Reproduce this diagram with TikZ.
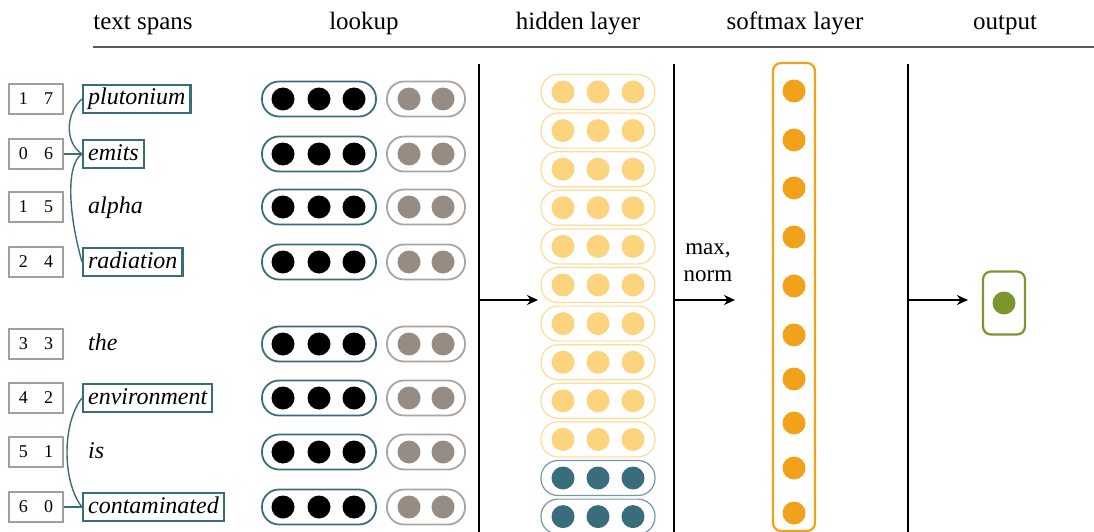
\documentclass[tikz,border=0pt]{standalone}
\usepackage{fontspec}
\setmainfont{Liberation Serif}
\usetikzlibrary{positioning, arrows.meta}
\definecolor{spanteal}{HTML}{3A6D7B}
\definecolor{lookgray}{HTML}{968C84}
\definecolor{hidorange}{HTML}{FCD47E}
\definecolor{hidedge}{HTML}{FDDB98}
\definecolor{softorange}{HTML}{F2A11B}
\definecolor{outgreen}{HTML}{7B962C}
\newcommand{\DOTR}{11.5}
\newcommand{\PILLH}{35}

\tikzset{
    numbox/.style={draw=lookgray!85, line width=1.2pt, minimum width=54, minimum height=30, inner sep=0pt, font=\fontsize{18}{21}\selectfont},
    wordbox/.style={draw=spanteal, line width=2.2pt, inner xsep=5pt, inner ysep=3pt, text height=17pt, text depth=5pt, font=\fontsize{24}{28}\selectfont\itshape, anchor=west},
    plainword/.style={wordbox, draw=none},
    coltitle/.style={anchor=base, font=\fontsize{25}{30}\selectfont},
    pill/.style={rectangle, rounded corners=17pt, minimum height=\PILLH, inner sep=0pt},
    brace/.style={draw=spanteal, line width=1.4pt},
    bar/.style={line width=1.6pt},
    arr/.style={line width=1.6pt, -{Stealth[length=11pt, width=10pt]}}
}

\begin{document}
\begin{tikzpicture}[x=1pt, y=-1pt, font=\fontsize{23}{27}\selectfont]
    \useasboundingbox (0,0) rectangle (1094,532);

    % column titles
    \foreach \x/\title in {143/text spans, 364/lookup, 578/hidden layer, 795/softmax layer, 1005/output} {
            \node[coltitle] at (\x, 30) {\title};
        }
    \draw[line width=1.5pt, black!65] (93,47) -- (1094,47);

    % text spans and lookup
    \foreach \i/\y/\a/\b/\word/\sty in {
            1/99/1/7/plutonium/wordbox,
            2/154/0/6/emits/wordbox,
            3/207/1/5/alpha/plainword,
            4/262/2/4/radiation/wordbox,
            5/344/3/3/the/plainword,
            6/398/4/2/environment/wordbox,
            7/452/5/1/is/plainword,
            8/507/6/0/contaminated/wordbox} {
            \node[numbox] (num\i) at (36, \y) {\a\hspace{.9em}\b};
            \node[\sty] (w\i) at (82, \y) {\word};
            % word vector and feature vector
            \node[pill, draw=spanteal, line width=1.8pt, minimum width=114] (look\i) at (319, \y) {};
            \node[pill, draw=lookgray!80, line width=1.8pt, minimum width=78] (feat\i) at (426, \y) {};
            \foreach \dx in {-36, 0, 35} {
                    \fill ([xshift=\dx]look\i.center) circle (\DOTR);
                }
            \foreach \dx in {-17, 17} {
                    \fill[lookgray] ([xshift=\dx]feat\i.center) circle (\DOTR);
                }
        }

    % span brackets
    \draw[brace] (w1.west) .. controls +(-16,14) and +(-18,-12) .. (w2.west);
    \draw[brace] (w2.west) .. controls +(-16,10) and +(-14,-50) .. (w4.west);
    \draw[brace] (num2.east) -- (w2.west);
    \draw[brace] (w6.west) .. controls +(-20,25) and +(-20,-25) .. (w8.west);
    \draw[brace] (num8.east) -- (w8.west);

    % separators
    \coordinate (bar1) at (479, 300);
    \coordinate (bar2) at (674, 300);
    \coordinate (bar3) at (908, 300);
    \foreach \x in {479, 674, 908} {
            \draw[bar] (\x, 64) -- (\x, 533);
        }

    % hidden layer
    \foreach \i in {0,...,11} {
            \pgfmathsetmacro{\yh}{92 + 38.6 * \i}
            \ifnum\i<10
                \def\dotcol{hidorange}\def\edgecol{hidedge}
            \else
                \def\dotcol{spanteal}\def\edgecol{spanteal!70}
            \fi
            \node[pill, draw=\edgecol, line width=1.2pt, minimum width=114] (hid\i) at (598, \yh) {};
            \foreach \dx in {-35, 0, 35} {
                    \fill[\dotcol] ([xshift=\dx]hid\i.center) circle (\DOTR);
                }
        }
    \coordinate (hidin) at (538, 300);
    \draw[arr] (bar1) -- (hidin);

    % softmax layer
    \node[draw=softorange, line width=2.2pt, rounded corners=8pt, minimum width=42, minimum height=468, inner sep=0pt] (soft) at (794, 297) {};
    \foreach \ys in {91, 140, 188, 237, 286, 335, 379, 423, 468, 513} {
            \fill[softorange] (794, \ys) circle (\DOTR);
        }
    \coordinate (softin) at (735, 300);
    \draw[arr] (bar2) -- (softin);
    \node[align=center] (mx) at (708, 263) {max,\\norm};

    % output
    \node[draw=outgreen, line width=2.2pt, rounded corners=8pt, minimum width=42, minimum height=63, inner sep=0pt] (out) at (1004, 303) {};
    \fill[outgreen] (out.center) circle (\DOTR);
    \draw[arr] (bar3) -- ([xshift=-14pt, yshift=3pt]out.west);
\end{tikzpicture}
\end{document}
